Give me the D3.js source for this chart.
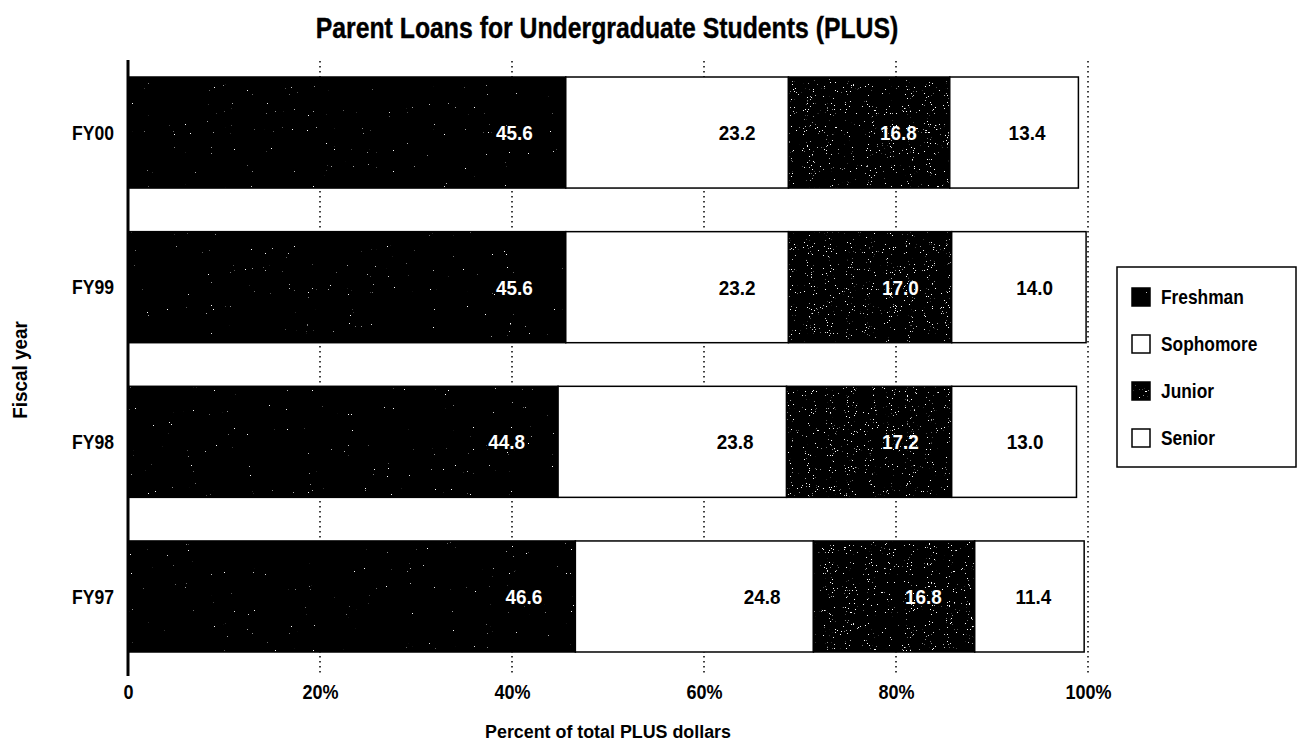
<!DOCTYPE html>
<html>
<head>
<meta charset="utf-8">
<script src="https://cdn.jsdelivr.net/npm/d3@7"></script>
<style>
  html, body { margin: 0; padding: 0; background: #fff; }
  svg { display: block; }
  text { font-family: "Liberation Sans", Arial, Helvetica, sans-serif; font-weight: bold; fill: #000; }
</style>
</head>
<body>
<script>
// Fiscal years, top to bottom
const years = ["FY00", "FY99", "FY98", "FY97"];
// Class levels, left to right within each bar
const levels = ["Freshman", "Sophomore", "Junior", "Senior"];
// Share of total PLUS dollars (%) for each class level, per fiscal year
const freshman  = [45.6, 45.6, 44.8, 46.6];
const sophomore = [23.2, 23.2, 23.8, 24.8];
const junior    = [16.8, 17.0, 17.2, 16.8];
const senior    = [13.4, 14.0, 13.0, 11.4];
// Axis tick values and labels
const tickValues = [0, 20, 40, 60, 80, 100];
const tickLabels = ["0", "20%", "40%", "60%", "80%", "100%"];

const W = 1302, H = 744;
const svg = d3.select("body").append("svg").attr("width", W).attr("height", H);

// Narrow the type horizontally around each text's anchor point
function condense(sel, sx) {
  sel.each(function () {
    const t = d3.select(this);
    const tx = +t.attr("x") || 0, ty = +t.attr("y") || 0;
    t.attr("x", 0).attr("y", 0).attr("transform", `translate(${tx},${ty}) scale(${sx},1)`);
  });
}

// Speckled black fills for the dark segments
const defs = svg.append("defs");
function speckleFilter(id, seed, freq, cut) {
  const f = defs.append("filter").attr("id", id)
    .attr("x", 0).attr("y", 0).attr("width", 1).attr("height", 1)
    .attr("filterUnits", "objectBoundingBox");
  f.append("feTurbulence").attr("type", "fractalNoise")
    .attr("baseFrequency", freq).attr("numOctaves", 2).attr("seed", seed).attr("result", "noise");
  // alpha rises steeply once the noise passes the cut level
  const k = 25;
  f.append("feColorMatrix").attr("in", "noise").attr("type", "matrix")
    .attr("values", `0 0 0 0 1  0 0 0 0 1  0 0 0 0 1  ${k} 0 0 0 ${-k * cut}`).attr("result", "dots");
  f.append("feComposite").attr("in", "dots").attr("in2", "SourceGraphic").attr("operator", "in");
}
speckleFilter("speckleLight", 4, 0.95, 0.80);
speckleFilter("speckleDense", 9, 0.95, 0.715);

const x = d3.scaleLinear().domain([0, 100]).range([128, 1088]);
const y = d3.scaleBand().domain(years).range([55.2, 673.8]).paddingInner(0.282).paddingOuter(0.141);

// Title
svg.append("text").attr("x", 607).attr("y", 38).attr("text-anchor", "middle")
  .style("font-size", "29px").style("stroke", "#000").style("stroke-width", 0.4)
  .text("Parent Loans for Undergraduate Students (PLUS)")
  .call(condense, 0.855);

// Dotted vertical gridlines
svg.append("g").selectAll("line").data(tickValues.slice(1)).join("line")
  .attr("x1", d => x(d)).attr("x2", d => x(d))
  .attr("y1", 61).attr("y2", 675)
  .attr("stroke", "#000").attr("stroke-width", 1.5).attr("stroke-dasharray", "1.5,3.5");

// Stacked bar segments
const series = [freshman, sophomore, junior, senior];
const dark = [true, false, true, false];
const rows = years.map((yr, i) => {
  let acc = 0;
  return levels.map((lv, j) => {
    const v = series[j][i];
    const seg = { year: yr, level: j, x0: acc, x1: acc + v, v };
    acc += v;
    return seg;
  });
}).flat();

const bars = svg.append("g");
bars.selectAll("rect.seg").data(rows).join("rect").attr("class", "seg")
  .attr("x", d => x(d.x0)).attr("y", d => y(d.year))
  .attr("width", d => x(d.x1) - x(d.x0)).attr("height", y.bandwidth())
  .attr("fill", d => dark[d.level] ? "#000" : "#fff")
  .attr("stroke", "#000").attr("stroke-width", 1.5);
bars.selectAll("rect.tex").data(rows.filter(d => dark[d.level])).join("rect").attr("class", "tex")
  .attr("x", d => x(d.x0) + 1).attr("y", d => y(d.year) + 1)
  .attr("width", d => x(d.x1) - x(d.x0) - 2).attr("height", y.bandwidth() - 2)
  .attr("fill", "#fff")
  .attr("filter", d => d.level === 0 ? "url(#speckleLight)" : "url(#speckleDense)");

// Value labels, right-aligned inside each segment
bars.selectAll("text").data(rows).join("text")
  .attr("x", d => x(d.x1) - 33).attr("y", d => y(d.year) + y.bandwidth() / 2 + 7.5)
  .attr("text-anchor", "end").style("font-size", "21px")
  .style("fill", d => dark[d.level] ? "#fff" : "#000")
  .text(d => d.v.toFixed(1))
  .call(condense, 0.9);

// Category axis
const yAxis = svg.append("g").attr("transform", "translate(128,0)")
  .call(d3.axisLeft(y).tickSize(0).tickPadding(14));
yAxis.select(".domain").remove();
yAxis.selectAll("text").style("font-size", "19.5px").attr("dy", "0.36em").call(condense, 0.9);
svg.append("line").attr("x1", 128).attr("x2", 128).attr("y1", 60).attr("y2", 676)
  .attr("stroke", "#000").attr("stroke-width", 3);

// Value axis labels
const xAxis = svg.append("g").attr("transform", "translate(0,677)")
  .call(d3.axisBottom(x).tickValues(tickValues).tickSize(0).tickPadding(7)
    .tickFormat((d, i) => tickLabels[i]));
xAxis.select(".domain").remove();
xAxis.selectAll("text").style("font-size", "20.5px").attr("dy", "0.71em").call(condense, 0.88);

// Axis titles
svg.append("text").attr("x", 608).attr("y", 738).attr("text-anchor", "middle")
  .style("font-size", "19px").text("Percent of total PLUS dollars").call(condense, 0.94);
svg.append("text").attr("x", 0).attr("y", 0).attr("text-anchor", "middle")
  .style("font-size", "19.5px").text("Fiscal year")
  .call(condense, 1.0)
  .attr("transform", "translate(27,370) rotate(-90) scale(0.97,1)");

// Legend
const lg = svg.append("g");
lg.append("rect").attr("x", 1117).attr("y", 267).attr("width", 179).attr("height", 200)
  .attr("fill", "#fff").attr("stroke", "#000").attr("stroke-width", 1.5);
const items = lg.selectAll("g.item").data(levels).join("g").attr("class", "item")
  .attr("transform", (d, i) => `translate(1132,${288 + i * 47})`);
items.append("rect").attr("width", 18).attr("height", 18)
  .attr("fill", (d, i) => dark[i] ? "#000" : "#fff").attr("stroke", "#000").attr("stroke-width", 1.5);
items.filter((d, i) => dark[i]).append("rect").attr("x", 1).attr("y", 1).attr("width", 16).attr("height", 16)
  .attr("fill", "#fff").attr("filter", (d, i) => i === 0 ? "url(#speckleLight)" : "url(#speckleDense)");
items.append("text").attr("x", 29).attr("y", 16).style("font-size", "19.5px").text(d => d)
  .call(condense, 0.89);
</script>
</body>
</html>
